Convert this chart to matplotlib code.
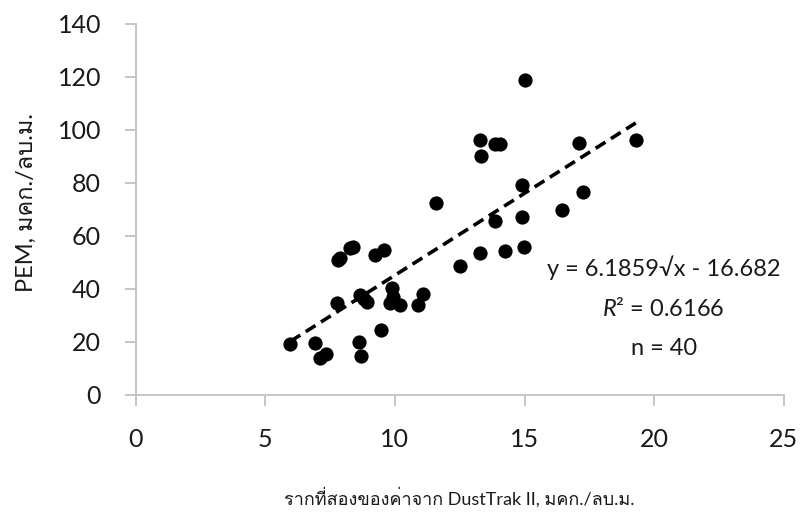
import numpy as np
import matplotlib
matplotlib.use("Agg")
import matplotlib.pyplot as plt
from matplotlib import font_manager
from matplotlib.ft2font import FT2Font

# ---- data ----
sqrt_dusttrak = [5.97, 6.91, 7.10, 7.36, 7.75, 7.88, 7.80, 8.26, 8.40, 8.61,
                 8.69, 8.65, 8.91, 9.46, 9.23, 9.58, 9.87, 9.80, 10.19, 9.92,
                 10.89, 11.09, 11.60, 12.50, 13.27, 13.30, 13.34, 13.85, 14.04, 14.26,
                 13.88, 14.90, 14.90, 14.98, 15.01, 16.45, 17.25, 17.10, 19.29, 8.80]
pem = [19.4, 19.7, 13.8, 15.5, 34.6, 51.6, 50.9, 55.5, 55.8, 20.1,
       14.7, 37.7, 35.2, 24.5, 52.8, 54.7, 40.3, 34.6, 34.0, 37.0,
       34.0, 38.0, 72.6, 48.8, 53.7, 96.2, 90.3, 94.7, 94.7, 54.3,
       65.8, 67.1, 79.1, 56.0, 118.9, 69.8, 76.7, 95.0, 96.2, 36.2]
slope = 6.1859
intercept = -16.682
r2 = 0.6166
n = 40
x_ticks = [0, 5, 10, 15, 20, 25]
y_ticks = [0, 20, 40, 60, 80, 100, 120, 140]
xlabel = "รากที่สองของค่าจาก DustTrak II, มคก./ลบ.ม."
ylabel = "PEM, มคก./ลบ.ม."

# ---- fonts: a Latin face plus a face that has Thai glyphs ----
names = {f.name for f in font_manager.fontManager.ttflist}
thai_font = None
for f in font_manager.fontManager.ttflist:
    try:
        cm = FT2Font(f.fname).get_charmap()
        if 0x0E23 in cm and 0x0E01 in cm:
            thai_font = f.name
            break
    except Exception:
        pass
latin = 'Lato' if 'Lato' in names else 'DejaVu Sans'
families = [latin, 'DejaVu Sans'] + ([thai_font] if thai_font else [])
plt.rcParams['font.family'] = families
plt.rcParams['font.weight'] = 'normal'
plt.rcParams['mathtext.fontset'] = 'custom'
plt.rcParams['mathtext.it'] = latin + ':italic'
plt.rcParams['mathtext.rm'] = latin

txt = '#1a1a1a'
grey = '#c6c6c6'
fig = plt.figure(figsize=(8.03, 5.18), dpi=100)
ax = fig.add_axes([0.169, 0.2375, 0.807, 0.7162])

ax.scatter(sqrt_dusttrak, pem, s=105, color='black', zorder=3, linewidths=0)
xs = np.array([min(sqrt_dusttrak), max(sqrt_dusttrak)])
ax.plot(xs, slope * xs + intercept, color='black', lw=2.6,
        linestyle=(0, (3.2, 1.8)), zorder=2)

ax.set_xlim(0, 25)
ax.set_ylim(0, 140)
ax.set_xticks(x_ticks)
ax.set_yticks(y_ticks)
for s in ['top', 'right']:
    ax.spines[s].set_visible(False)
for s in ['left', 'bottom']:
    ax.spines[s].set_color(grey)
    ax.spines[s].set_linewidth(1.4)
ax.tick_params(axis='both', colors=grey, length=8, width=1.4, labelsize=18,
               labelcolor=txt)
ax.tick_params(axis='x', pad=16)
ax.tick_params(axis='y', pad=17)

ax.set_xlabel(xlabel, fontsize=13, labelpad=26, color=txt)
ax.set_ylabel(ylabel, fontsize=17, color=txt)
ax.yaxis.set_label_coords(-0.153, 0.52)

ax.text(20.37, 47.9, f"y = {slope}√x - {abs(intercept)}", fontsize=17,
        ha='center', va='center', color=txt)
ax.text(20.37, 32.5, f"$R$² = {r2}", fontsize=17, ha='center', va='center',
        color=txt)
ax.text(20.37, 17.4, f"n = {n}", fontsize=17, ha='center', va='center',
        color=txt)

fig.savefig("out.png", dpi=100)
